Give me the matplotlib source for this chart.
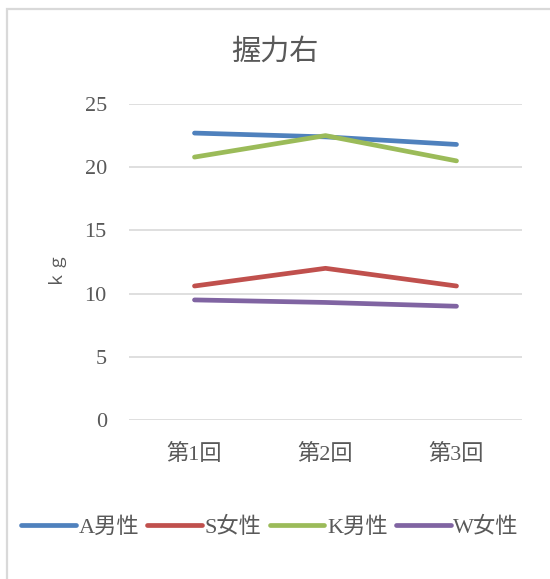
import matplotlib
matplotlib.use("Agg")
import matplotlib.pyplot as plt
from matplotlib.patches import Rectangle

plt.rcParams["font.family"] = ["Liberation Serif", "Noto Sans CJK JP"]

TITLE = "握力右"
ROUNDS = ["第1回", "第2回", "第3回"]
SERIES = ["A男性", "S女性", "K男性", "W女性"]
A_MALE = [22.7, 22.4, 21.8]
S_FEMALE = [10.6, 12.0, 10.6]
K_MALE = [20.8, 22.5, 20.5]
W_FEMALE = [9.5, 9.3, 9.0]
Y_TICKS = [0, 5, 10, 15, 20, 25]

COLORS = ["#4F81BD", "#C0504D", "#9BBB59", "#8064A2"]
TEXT = "#595959"
GRID = "#D9D9D9"

fig = plt.figure(figsize=(5.5, 5.79), dpi=100)

# chart frame, clipped at the right and bottom edges
fig.patches.append(Rectangle((7 / 550, -0.05), 1.1, 1 - 9 / 579 + 0.05,
                             transform=fig.transFigure, fill=False,
                             edgecolor=GRID, linewidth=1.6))

ax = fig.add_axes([129 / 550, 1 - 420 / 579, (522 - 129) / 550, (420 - 104) / 579])
x = range(len(ROUNDS))
for values, name, color in zip([A_MALE, S_FEMALE, K_MALE, W_FEMALE], SERIES, COLORS):
    ax.plot(x, values, color=color, linewidth=3.4, solid_capstyle="round",
            solid_joinstyle="round", label=name)

ax.set_xlim(-0.5, len(ROUNDS) - 0.5)
ax.set_ylim(0, 25)
ax.set_yticks(Y_TICKS)
ax.set_xticks(list(x))
ax.set_xticklabels(ROUNDS)
ax.grid(axis="y", color=GRID, linewidth=1.2)
ax.set_axisbelow(True)
for side in ["top", "right", "left", "bottom"]:
    ax.spines[side].set_visible(False)
ax.tick_params(length=0, labelsize=16, colors=TEXT)
ax.tick_params(axis="y", pad=16)
ax.tick_params(axis="x", pad=17)
ax.set_ylabel("ｋｇ", fontsize=12.5, color=TEXT)
ax.yaxis.set_label_coords(-0.17, 0.49)

fig.text(275 / 550, 1 - 52 / 579, TITLE, ha="center", va="center",
         fontsize=21, color=TEXT)

leg = fig.legend(loc="center", bbox_to_anchor=(270 / 550, 1 - 527 / 579), ncol=4,
                 frameon=False, fontsize=16, handlelength=2.45, handletextpad=0.12,
                 columnspacing=0.38, borderpad=0)
for t in leg.get_texts():
    t.set_color(TEXT)

fig.savefig("out.png", dpi=100)
